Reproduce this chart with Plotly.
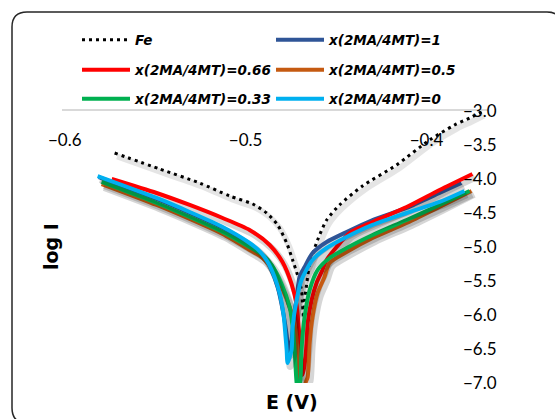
import plotly.graph_objects as go

# ---------------- data ----------------
names = ["Fe", "x(2MA/4MT)=1", "x(2MA/4MT)=0.66", "x(2MA/4MT)=0.5",
         "x(2MA/4MT)=0.33", "x(2MA/4MT)=0"]

fe_E = [-0.5724, -0.5475, -0.5254, -0.5088, -0.4961, -0.4884, -0.4823, -0.4773,
        -0.4740, -0.4713, -0.4691, -0.4685, -0.4680, -0.4674, -0.4663, -0.4646,
        -0.4602, -0.4552, -0.4481, -0.4354, -0.4166, -0.3983, -0.3845, -0.3762, -0.3696]
fe_logI = [-3.618, -3.853, -4.059, -4.250, -4.368, -4.500, -4.676, -4.941,
           -5.191, -5.412, -5.632, -5.853, -6.044, -5.779, -5.559, -5.250,
           -4.897, -4.603, -4.382, -4.103, -3.794, -3.426, -3.206, -3.103, -3.015]

x1_E = [-0.5812, -0.5492, -0.5309, -0.5127, -0.4978, -0.4906, -0.4862, -0.4823,
        -0.4790, -0.4773, -0.4762, -0.4746, -0.4735, -0.4718, -0.4702, -0.4674,
        -0.4630, -0.4552, -0.4442, -0.4298, -0.4110, -0.3928, -0.3807]
x1_logI = [-3.971, -4.294, -4.500, -4.721, -4.956, -5.118, -5.309, -5.588,
           -6.000, -6.294, -6.544, -6.368, -6.074, -5.750, -5.441, -5.294,
           -5.088, -4.926, -4.779, -4.603, -4.426, -4.206, -4.059]

x066_E = [-0.5740, -0.5492, -0.5309, -0.5127, -0.4978, -0.4867, -0.4796, -0.4746,
          -0.4718, -0.4707, -0.4696, -0.4685, -0.4674, -0.4663, -0.4657, -0.4635,
          -0.4608, -0.4575, -0.4552, -0.4497, -0.4425, -0.4298, -0.4110, -0.3928, -0.3746]
x066_logI = [-4.000, -4.206, -4.382, -4.574, -4.750, -4.971, -5.221, -5.544,
             -5.853, -6.176, -6.515, -6.882, -6.735, -6.412, -6.118, -5.779,
             -5.529, -5.338, -5.191, -5.000, -4.794, -4.632, -4.412, -4.162, -3.926]

x05_E = [-0.5796, -0.5492, -0.5309, -0.5127, -0.4978, -0.4906, -0.4851, -0.4796,
         -0.4751, -0.4724, -0.4713, -0.4702, -0.4685, -0.4669, -0.4657, -0.4646,
         -0.4630, -0.4602, -0.4564, -0.4536, -0.4442, -0.4298, -0.4110, -0.3928, -0.3751]
x05_logI = [-4.074, -4.382, -4.588, -4.809, -5.044, -5.162, -5.338, -5.618,
            -5.926, -6.221, -6.588, -7.000, -7.220, -7.000, -6.912, -6.412,
            -6.029, -5.676, -5.441, -5.235, -5.074, -4.868, -4.647, -4.412, -4.176]

x033_E = [-0.5796, -0.5492, -0.5309, -0.5127, -0.4978, -0.4912, -0.4856, -0.4801,
          -0.4757, -0.4740, -0.4729, -0.4718, -0.4707, -0.4696, -0.4691, -0.4674,
          -0.4646, -0.4602, -0.4536, -0.4442, -0.4298, -0.4110, -0.3928, -0.3762]
x033_logI = [-4.044, -4.353, -4.559, -4.779, -5.000, -5.103, -5.265, -5.544,
             -5.882, -6.176, -6.515, -7.000, -7.180, -6.912, -6.515, -6.029,
             -5.632, -5.338, -5.162, -5.015, -4.824, -4.603, -4.382, -4.176]

x0_E = [-0.5818, -0.5492, -0.5309, -0.5127, -0.4978, -0.4923, -0.4878, -0.4840,
        -0.4812, -0.4790, -0.4779, -0.4773, -0.4768, -0.4746, -0.4740, -0.4718,
        -0.4691, -0.4630, -0.4552, -0.4442, -0.4298, -0.4110, -0.3928, -0.3790]
x0_logI = [-3.956, -4.279, -4.485, -4.706, -4.941, -5.059, -5.221, -5.441,
           -5.676, -6.000, -6.324, -6.515, -6.706, -6.515, -6.176, -5.779,
           -5.485, -5.191, -5.015, -4.853, -4.676, -4.500, -4.338, -4.176]

x_ticks = [-0.6, -0.5, -0.4]
y_ticks = [-3.0, -3.5, -4.0, -4.5, -5.0, -5.5, -6.0, -6.5, -7.0]

# ---------------- layout helpers ----------------
W, H = 555, 419
ML, MR, MT, MB = 62, 67, 111, 36
PW, PH = W - ML - MR, H - MT - MB
X_RANGE = [-0.6015, -0.366]
Y_RANGE = [-7.0, -3.0]


def px2x(px):
    return (px - ML) / PW


def py2y(py):
    return (H - MB - py) / PH


dx_px = (X_RANGE[1] - X_RANGE[0]) / PW
dy_px = (Y_RANGE[1] - Y_RANGE[0]) / PH

colors = ["#000000", "#2F5597", "#FF0000", "#C55A11", "#00B050", "#00B0F0"]
series = [(fe_E, fe_logI), (x1_E, x1_logI), (x066_E, x066_logI),
          (x05_E, x05_logI), (x033_E, x033_logI), (x0_E, x0_logI)]
legend_ids = ["legend", "legend", "legend2", "legend2", "legend3", "legend3"]

fig = go.Figure()
for i, (xs, ys) in enumerate(series):
    # soft drop shadow (Excel style), derived from the same data
    fig.add_trace(go.Scatter(
        x=[v + 2.5 * dx_px for v in xs], y=[v - 3.5 * dy_px for v in ys],
        mode="lines", line=dict(color="rgba(0,0,0,0.16)" if i else "rgba(0,0,0,0.10)",
                                width=7 if i else 6, shape="spline", smoothing=0.7),
        showlegend=False, hoverinfo="skip"))
    fig.add_trace(go.Scatter(
        x=xs, y=ys, mode="lines", name=names[i], legend=legend_ids[i],
        line=dict(color=colors[i], width=3 if i == 0 else 4,
                  dash="3px,4px" if i == 0 else "solid",
                  shape="spline", smoothing=0.7)))

tick_font = dict(family="Lato", size=17, color="#000000")
fig.update_xaxes(range=X_RANGE, side="top", tickvals=x_ticks, tickformat=".1f",
                 ticklabelposition="inside", ticklabelstandoff=24,
                 ticklabeloverflow="allow",
                 showline=True, linecolor="#D9D9D9", linewidth=1.5,
                 showgrid=False, zeroline=False, ticks="", tickfont=tick_font)
fig.update_yaxes(range=Y_RANGE, side="right", tickvals=y_ticks, tickformat=".1f",
                 ticklabelstandoff=-26, ticklabeloverflow="allow",
                 showline=False, showgrid=False,
                 zeroline=False, ticks="", tickfont=tick_font)

leg_font = dict(family="DejaVu Sans", size=13.5, color="#000000",
                weight="bold", style="italic")
rows = {"legend": 40, "legend2": 70, "legend3": 99}
leg_common = dict(orientation="h", xanchor="left", yanchor="middle",
                  x=px2x(77), font=leg_font, bgcolor="rgba(0,0,0,0)",
                  entrywidth=131, entrywidthmode="pixels", itemwidth=48,
                  traceorder="normal")

# rounded chart border
x0, x1, y0, y1, r = 12, 562, 12, 423, 15
path = (f"M {px2x(x0 + r)},{py2y(y0)} L {px2x(x1 - r)},{py2y(y0)} "
        f"Q {px2x(x1)},{py2y(y0)} {px2x(x1)},{py2y(y0 + r)} "
        f"L {px2x(x1)},{py2y(y1 - r)} Q {px2x(x1)},{py2y(y1)} {px2x(x1 - r)},{py2y(y1)} "
        f"L {px2x(x0 + r)},{py2y(y1)} Q {px2x(x0)},{py2y(y1)} {px2x(x0)},{py2y(y1 - r)} "
        f"L {px2x(x0)},{py2y(y0 + r)} Q {px2x(x0)},{py2y(y0)} {px2x(x0 + r)},{py2y(y0)} Z")

fig.update_layout(
    width=W, height=H,
    margin=dict(l=ML, r=MR, t=MT, b=MB, autoexpand=False),
    paper_bgcolor="white", plot_bgcolor="white",
    legend=dict(y=py2y(rows["legend"]), **leg_common),
    legend2=dict(y=py2y(rows["legend2"]), **leg_common),
    legend3=dict(y=py2y(rows["legend3"]), **leg_common),
    shapes=[dict(type="path", path=path, xref="paper", yref="paper",
                 line=dict(color="#262626", width=1.5), layer="above")],
    annotations=[
        dict(text="log I", x=px2x(51), y=py2y(247), xref="paper", yref="paper",
             textangle=-90, showarrow=False, xanchor="center", yanchor="middle",
             font=dict(family="DejaVu Sans", size=19, color="#000000", weight="bold")),
        dict(text="E (V)", x=px2x(292), y=py2y(402), xref="paper", yref="paper",
             showarrow=False, xanchor="center", yanchor="middle",
             font=dict(family="DejaVu Sans", size=19, color="#000000", weight="bold")),
    ],
)

fig.write_html("out.html", config={"displayModeBar": False},
               post_script="document.body.style.margin='0';document.body.style.overflow='hidden';")
